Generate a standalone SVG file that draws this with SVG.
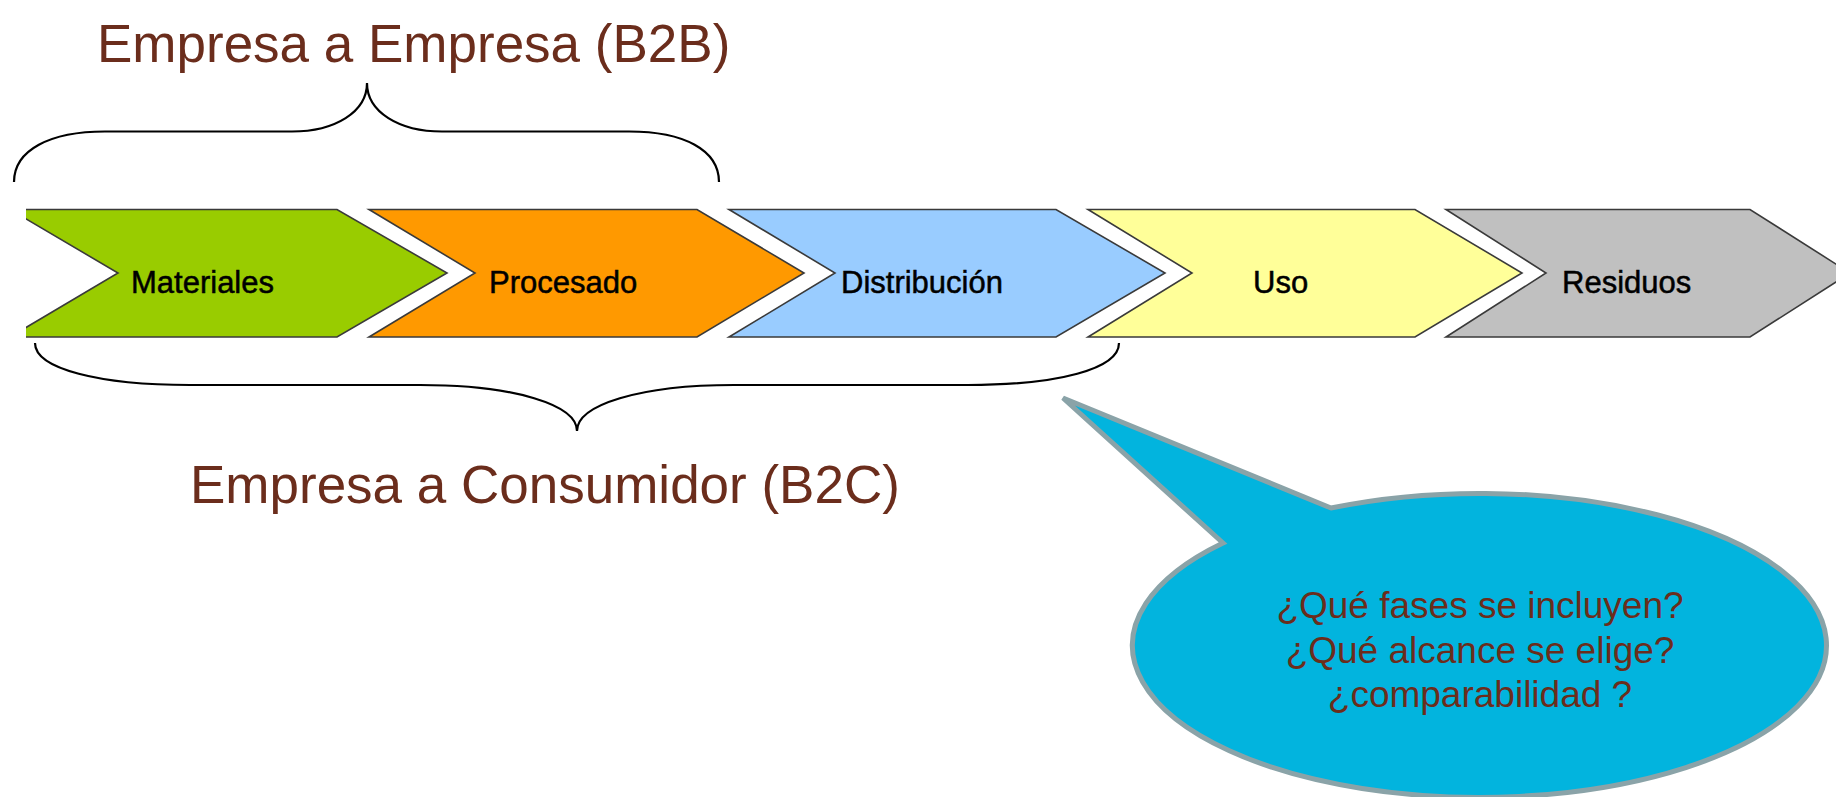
<svg xmlns="http://www.w3.org/2000/svg" width="1836" height="797" viewBox="0 0 1836 797">
<style>
.title{font-family:"Liberation Sans",Arial,sans-serif;font-size:53px;fill:#6B2D1C}
.lbl{font-family:"Liberation Sans",Arial,sans-serif;font-size:31px;fill:#000;stroke:#000;stroke-width:0.5}
.chev{stroke:#3A3A3A;stroke-width:1.6;stroke-linejoin:miter}
.brace{fill:none;stroke:#000;stroke-width:2.2}
.q{font-family:"Liberation Sans",Arial,sans-serif;font-size:37px;fill:#6B2D1C;text-anchor:middle}
</style>
<defs>
<clipPath id="strip"><rect x="26" y="195" width="1810" height="160"/></clipPath>
</defs>
<rect width="1836" height="797" fill="#fff"/>
<g id="title-b2b"><text class="title" x="97" y="62">Empresa a Empresa (B2B)</text></g>
<g id="brace-b2b"><path class="brace" d="M14,182 C14,150 50,131.5 105,131.5 L292,131.5 C335,131.5 367,112 367,83 C367,112 399,131.5 442,131.5 L629,131.5 C684,131.5 719,150 719,182"/></g>
<g id="chevrons" clip-path="url(#strip)">
<g id="materiales"><polygon class="chev" fill="#99CC00" points="10,209.5 337,209.5 447,273 337,337 10,337 118,273"/><text class="lbl" x="131" y="293">Materiales</text></g>
<g id="procesado"><polygon class="chev" fill="#FF9900" points="369,209.5 697,209.5 804,273 697,337 369,337 475,273"/><text class="lbl" x="489" y="293">Procesado</text></g>
<g id="distribucion"><polygon class="chev" fill="#99CCFF" points="729,209.5 1056,209.5 1165,273 1056,337 729,337 835,273"/><text class="lbl" x="841" y="293">Distribución</text></g>
<g id="uso"><polygon class="chev" fill="#FFFF99" points="1088,209.5 1415,209.5 1522,273 1415,337 1088,337 1192,273"/><text class="lbl" x="1253" y="293">Uso</text></g>
<g id="residuos"><polygon class="chev" fill="#C0C0C0" points="1446,209.5 1750,209.5 1850,273 1750,337 1446,337 1546,273"/><text class="lbl" x="1562" y="293">Residuos</text></g>
</g>
<g id="brace-b2c"><path class="brace" d="M35,343 C35,369 100,385 190,385 L420,385 C515,385 577,405 577,431 C577,405 639,385 734,385 L968,385 C1058,385 1119,369 1119,343"/></g>
<g id="title-b2c"><text class="title" x="190" y="503">Empresa a Consumidor (B2C)</text></g>
<g id="bubble">
<path d="M1063,398 L1331,508 A347,152 0 1 1 1223,543 Z" fill="#02B4DE" stroke="#8AA3A8" stroke-width="5" stroke-linejoin="miter"/>
<text class="q" x="1480" y="618">¿Qué fases se incluyen?</text>
<text class="q" x="1480" y="663">¿Qué alcance se elige?</text>
<text class="q" x="1480" y="707">¿comparabilidad ?</text>
</g>
</svg>
